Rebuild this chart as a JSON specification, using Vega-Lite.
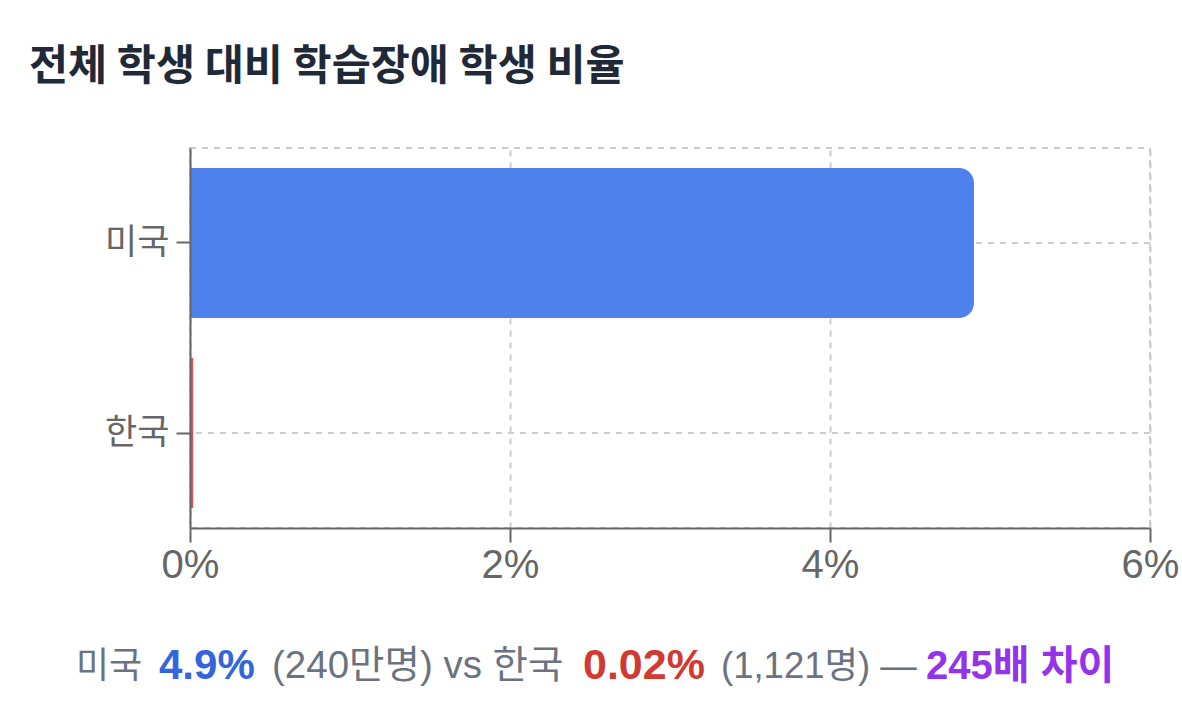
{
  "$schema": "https://vega.github.io/schema/vega-lite/v6.json",
  "width": 960,
  "height": 380,
  "autosize": "none",
  "padding": {"left": 190, "top": 148, "right": 32, "bottom": 176},
  "background": "white",
  "config": {
    "font": "Liberation Sans, Noto Sans CJK KR",
    "view": {"stroke": "#cccccc", "strokeDash": [6, 6], "strokeWidth": 2}
  },
  "title": {
    "text": "전체 학생 대비 학습장애 학생 비율",
    "anchor": "start",
    "frame": "group",
    "dx": -161,
    "offset": 60,
    "fontSize": 42.5,
    "fontWeight": "bold",
    "color": "#1f2937",
    "font": "Noto Sans CJK KR"
  },
  "layer": [
    {
      "data": {"values": [
        {"country": "미국", "rate": 4.9},
        {"country": "한국", "rate": 0.02}
      ]},
      "encoding": {
        "y": {
          "field": "country", "type": "nominal", "sort": ["미국", "한국"],
          "scale": {"paddingInner": 0.21, "paddingOuter": 0.105},
          "axis": {
            "title": null, "grid": false,
            "domainColor": "#666666", "domainWidth": 2,
            "tickColor": "#666666", "tickWidth": 2, "tickSize": 14,
            "labelFontSize": 35, "labelColor": "#666666", "labelPadding": 7,
            "labelFont": "Noto Sans CJK KR", "zindex": 1
          }
        }
      },
      "layer": [
        {
          "mark": {"type": "rule", "color": "#cccccc", "strokeDash": [6, 6], "strokeWidth": 2},
          "encoding": {}
        },
        {
          "transform": [{"filter": "datum.rate > 1"}],
          "mark": {"type": "bar", "cornerRadiusEnd": 15},
          "encoding": {
            "x": {
              "field": "rate", "type": "quantitative",
              "scale": {"domain": [0, 6], "nice": false},
              "axis": {
                "title": null, "values": [0, 2, 4, 6],
                "labelExpr": "datum.value + '%'",
                "grid": true, "gridColor": "#cccccc", "gridDash": [6, 6], "gridWidth": 2,
                "domainColor": "#666666", "domainWidth": 2,
                "tickColor": "#666666", "tickWidth": 2, "tickSize": 14,
                "labelFontSize": 40, "labelColor": "#666666", "labelPadding": 3,
                "labelFlush": false, "zindex": 0
              }
            },
            "color": {
              "field": "country", "type": "nominal",
              "scale": {"domain": ["미국", "한국"], "range": ["#4f81ed", "#e05252"]},
              "legend": null
            }
          }
        },
        {
          "transform": [{"filter": "datum.rate <= 1"}],
          "mark": {"type": "bar"},
          "encoding": {
            "x": {"field": "rate", "type": "quantitative"},
            "color": {"field": "country", "type": "nominal"}
          }
        }
      ]
    },
    {
      "data": {"values": [{"t": "미국"}]},
      "mark": {"type": "text", "align": "left", "baseline": "alphabetic", "fontSize": 36, "color": "#6b7280"},
      "encoding": {"text": {"field": "t"}, "x": {"value": -114}, "y": {"value": 530}}
    },
    {
      "data": {"values": [{"t": "4.9%"}]},
      "mark": {"type": "text", "align": "left", "baseline": "alphabetic", "fontSize": 42, "fontWeight": "bold", "color": "#3366dd"},
      "encoding": {"text": {"field": "t"}, "x": {"value": -31}, "y": {"value": 531}}
    },
    {
      "data": {"values": [{"t": "(240만명) vs 한국"}]},
      "mark": {"type": "text", "align": "left", "baseline": "alphabetic", "fontSize": 38.5, "color": "#6b7280"},
      "encoding": {"text": {"field": "t"}, "x": {"value": 82}, "y": {"value": 530}}
    },
    {
      "data": {"values": [{"t": "0.02%"}]},
      "mark": {"type": "text", "align": "left", "baseline": "alphabetic", "fontSize": 43, "fontWeight": "bold", "color": "#d03a30"},
      "encoding": {"text": {"field": "t"}, "x": {"value": 393}, "y": {"value": 531}}
    },
    {
      "data": {"values": [{"t": "(1,121명) —"}]},
      "mark": {"type": "text", "align": "left", "baseline": "alphabetic", "fontSize": 36.5, "color": "#6b7280"},
      "encoding": {"text": {"field": "t"}, "x": {"value": 531}, "y": {"value": 530}}
    },
    {
      "data": {"values": [{"t": "245배 차이"}]},
      "mark": {"type": "text", "align": "left", "baseline": "alphabetic", "fontSize": 40, "fontWeight": "bold", "color": "#9333ea"},
      "encoding": {"text": {"field": "t"}, "x": {"value": 736}, "y": {"value": 531}}
    }
  ]
}
